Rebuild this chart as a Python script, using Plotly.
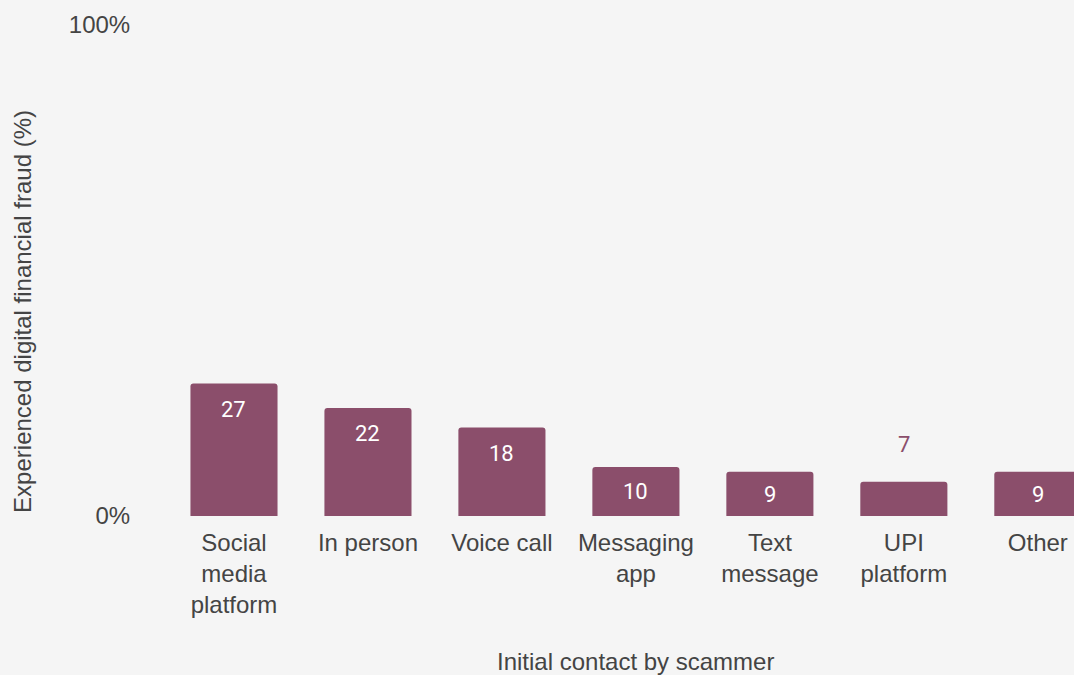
import plotly.graph_objects as go

# Share of fraud victims by how the scammer first made contact
categories = ["Social media platform", "In person", "Voice call", "Messaging app",
              "Text message", "UPI platform", "Other"]
tick_labels = ["Social<br>media<br>platform", "In person", "Voice call", "Messaging<br>app",
               "Text<br>message", "UPI<br>platform", "Other"]
values = [27, 22, 18, 10, 9, 7, 9]

# Label placement: pixels from bar top (negative = inside the bar)
label_shift = [-26, -26, -26, -25, -23, 37, -23]
BAR = "#8b4e6b"
TEXT = "#444444"
label_colors = ["white" if s < 0 else BAR for s in label_shift]
AXIS_FONT = "Arial, Liberation Sans, sans-serif"

fig = go.Figure(
    go.Bar(
        x=list(range(len(categories))),
        y=values,
        width=0.65,
        marker=dict(color=BAR, cornerradius=3, line=dict(width=0)),
        hovertext=categories,
        showlegend=False,
    )
)

for i, (v, s, c) in enumerate(zip(values, label_shift, label_colors)):
    fig.add_annotation(
        x=i, y=v, xref="x", yref="y", text=str(v), showarrow=False,
        yshift=s, xanchor="center", yanchor="middle",
        font=dict(family="Roboto", size=22, color=c),
    )

# Axis titles
fig.add_annotation(
    x=3, xref="x", y=-0.296, yref="paper", text="Initial contact by scammer",
    showarrow=False, xanchor="center", yanchor="middle",
    font=dict(family=AXIS_FONT, size=24, color=TEXT),
)
fig.add_annotation(
    x=-0.16, xref="paper", y=0.4175, yref="paper",
    text="Experienced digital financial fraud (%)", textangle=-90,
    showarrow=False, xanchor="center", yanchor="middle",
    font=dict(family=AXIS_FONT, size=24, color=TEXT),
)

fig.update_layout(
    width=1074, height=675, autosize=False,
    margin=dict(l=167, r=0, t=25, b=159),
    paper_bgcolor="#f5f5f5", plot_bgcolor="#f5f5f5",
    font=dict(family=AXIS_FONT, size=24, color=TEXT),
    bargap=0.35,
)
fig.update_xaxes(
    tickmode="array", tickvals=list(range(len(categories))), ticktext=tick_labels,
    range=[-0.5, 6.27], showgrid=False, zeroline=False, showline=False,
    ticks="outside", ticklen=0, ticklabelstandoff=5,
    tickfont=dict(family=AXIS_FONT, size=24, color=TEXT),
)
fig.update_yaxes(
    range=[0, 100], tickvals=[0, 100], ticktext=["0%", "100%"],
    showgrid=False, zeroline=False, showline=False,
    ticks="outside", ticklen=0, ticklabelstandoff=31,
    tickfont=dict(family=AXIS_FONT, size=24, color=TEXT),
)

fig.write_html("out.html")
